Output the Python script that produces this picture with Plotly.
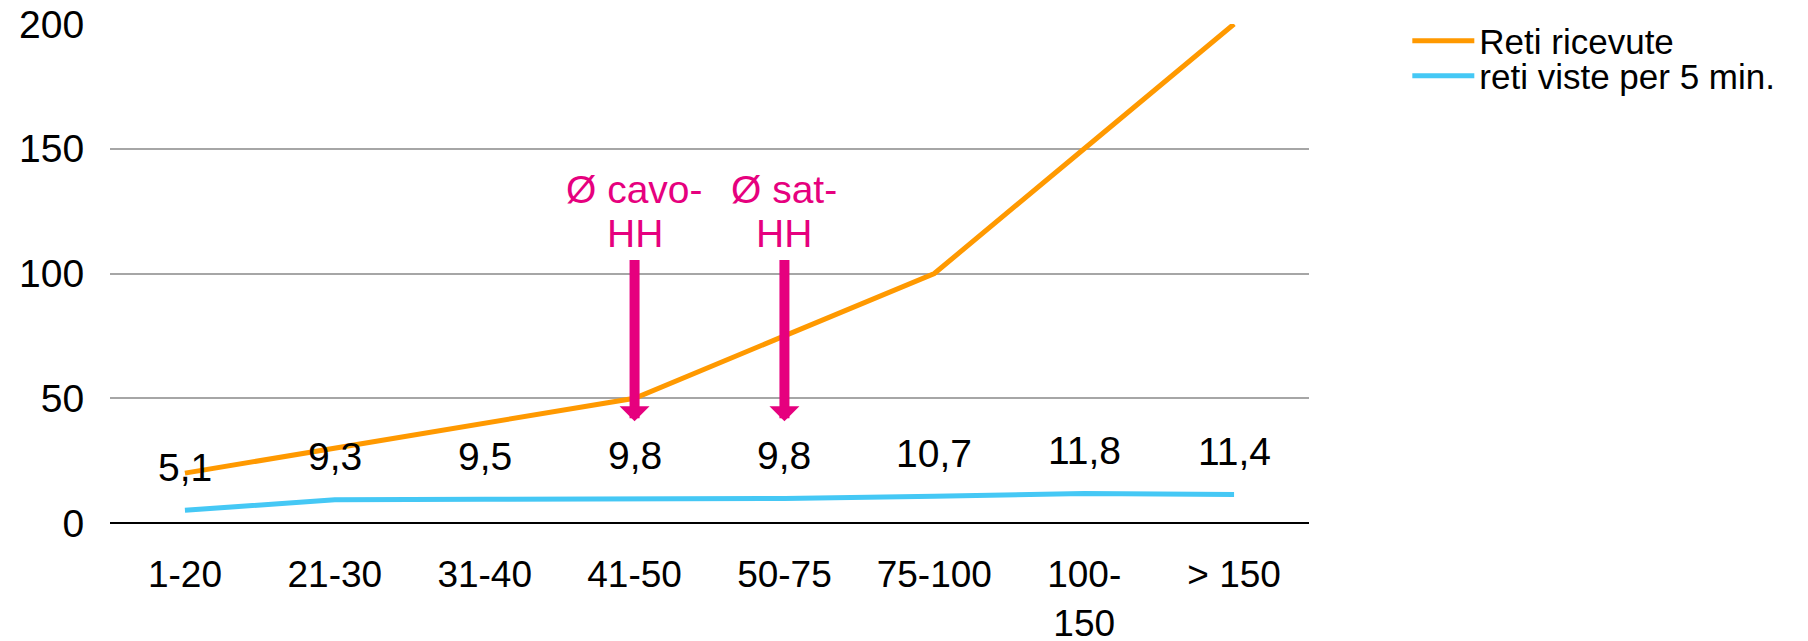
import plotly.graph_objects as go

categories = ["1-20", "21-30", "31-40", "41-50", "50-75", "75-100", "100-<br>150", "> 150"]
reti_ricevute = [20, 30, 40, 50, 75, 100, 150, 200]
reti_viste = [5.1, 9.3, 9.5, 9.8, 9.8, 10.7, 11.8, 11.4]
y_ticks = [0, 50, 100, 150, 200]

# pointer notes: (category index, text lines, arrow tail value, arrow tip value)
notes_x = [3, 4]
notes_line1 = ["Ø cavo-", "Ø sat-"]
notes_line2 = ["HH", "HH"]
arrow_tail = [106, 106]
arrow_tip = [40.8, 40.8]

FONT = "Liberation Sans, Arial, sans-serif"
ORANGE = "#FF9900"
BLUE = "#45C8F5"
MAGENTA = "#E6007E"

xs = list(range(len(categories)))

fig = go.Figure()
fig.add_trace(go.Scatter(x=xs, y=reti_ricevute, mode="lines", name="Reti ricevute",
                         line=dict(color=ORANGE, width=5), legend="legend"))
fig.add_trace(go.Scatter(x=xs, y=reti_viste, mode="lines", name="reti viste per 5 min.",
                         line=dict(color=BLUE, width=5), legend="legend2"))

annotations = []
for x, v in zip(xs, reti_viste):
    annotations.append(dict(x=x, y=v, xref="x", yref="y", text=f"{v:.1f}".replace(".", ","),
                            showarrow=False, yshift=43, yanchor="middle",
                            font=dict(family=FONT, size=39, color="black")))
for x, l1, l2, a0, a1 in zip(notes_x, notes_line1, notes_line2, arrow_tail, arrow_tip):
    annotations.append(dict(x=x, y=a1, xref="x", yref="y", ax=x, ay=a0, axref="x", ayref="y",
                            text="", showarrow=True, arrowhead=1, arrowsize=0.5, arrowwidth=10,
                            arrowcolor=MAGENTA))
    annotations.append(dict(x=x, y=a0, xref="x", yref="y", text=l2, showarrow=False,
                            yanchor="middle", yshift=25,
                            font=dict(family=FONT, size=39, color=MAGENTA)))
    annotations.append(dict(x=x, y=a0, xref="x", yref="y", text=l1, showarrow=False,
                            yanchor="middle", yshift=69,
                            font=dict(family=FONT, size=39, color=MAGENTA)))

legend_common = dict(xanchor="left", yanchor="middle", itemwidth=62, tracegroupgap=0,
                     bgcolor="rgba(0,0,0,0)", font=dict(family=FONT, size=35, color="black"))

fig.update_layout(
    width=1808, height=641,
    margin=dict(l=110, r=499, t=24, b=118, autoexpand=False),
    paper_bgcolor="white", plot_bgcolor="white",
    font=dict(family=FONT, size=39, color="black"),
    showlegend=True,
    legend=dict(x=1.082, y=(523 - 41) / 499, **legend_common),
    legend2=dict(x=1.082, y=(523 - 76) / 499, **legend_common),
    annotations=annotations,
)
fig.update_xaxes(range=[-0.5, len(categories) - 0.5], tickmode="array", tickvals=xs,
                 ticktext=categories, showgrid=False, zeroline=False, automargin=False,
                 ticks="outside", ticklen=19, tickcolor="rgba(0,0,0,0)",
                 tickfont=dict(family=FONT, size=37))
fig.update_yaxes(range=[0, 200], tickvals=y_ticks, showgrid=True, gridcolor="#A6A6A6",
                 gridwidth=1.5, zeroline=True, zerolinecolor="black", zerolinewidth=2,
                 automargin=False,
                 ticks="outside", ticklen=17, tickcolor="rgba(0,0,0,0)",
                 tickfont=dict(family=FONT, size=39))

fig.write_html("out.html", config={"displayModeBar": False},
               post_script="document.body.style.margin='0';")
